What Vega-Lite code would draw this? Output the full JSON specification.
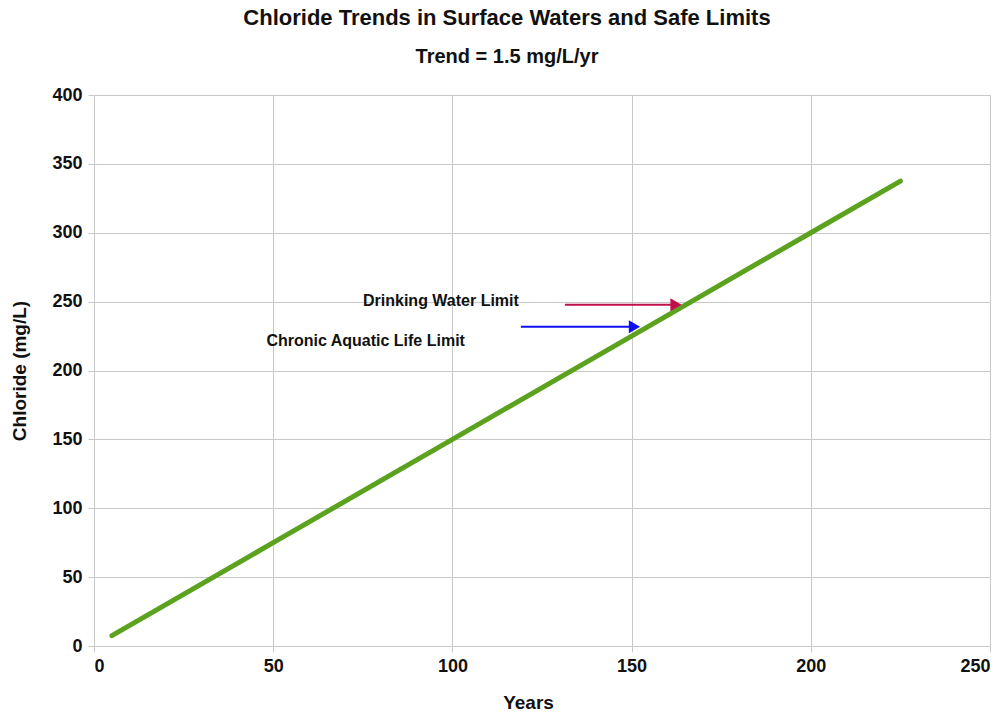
{
  "$schema": "https://vega.github.io/schema/vega-lite/v6.json",
  "width": 896,
  "height": 551,
  "autosize": {"type": "none"},
  "padding": {"left": 94, "top": 95, "right": 15, "bottom": 69},
  "background": "white",
  "title": {
    "text": "Chloride Trends in Surface Waters and Safe Limits",
    "subtitle": "Trend = 1.5 mg/L/yr",
    "anchor": "middle",
    "dx": -35,
    "offset": 18,
    "font": "Liberation Sans",
    "fontSize": 22,
    "fontWeight": "bold",
    "color": "#111111",
    "subtitleFont": "Liberation Sans",
    "subtitleFontSize": 20,
    "subtitleFontWeight": "bold",
    "subtitleColor": "#111111",
    "subtitlePadding": 17
  },
  "config": {
    "view": {"stroke": "#c8c8c8", "strokeWidth": 1},
    "axis": {
      "labelFont": "Liberation Sans",
      "labelFontSize": 18,
      "labelFontWeight": "bold",
      "labelColor": "#111111",
      "titleFont": "Liberation Sans",
      "titleFontSize": 19,
      "titleFontWeight": "bold",
      "titleColor": "#111111",
      "gridColor": "#c8c8c8",
      "gridWidth": 1,
      "domain": false,
      "tickColor": "#c8c8c8",
      "tickSize": 6
    }
  },
  "datasets": {
    "trend": [
      {"years": 5, "chloride": 7.5},
      {"years": 50, "chloride": 75},
      {"years": 100, "chloride": 150},
      {"years": 150, "chloride": 225},
      {"years": 200, "chloride": 300},
      {"years": 225, "chloride": 337.5}
    ],
    "arrows": [
      {"limit": "Drinking Water Limit", "x1": 131.4, "x2": 162, "head": 162.4, "y": 247.7},
      {"limit": "Chronic Aquatic Life Limit", "x1": 119.1, "x2": 150, "head": 150.8, "y": 231.7}
    ],
    "labels": [
      {"label": "Drinking Water Limit", "years": 96.8, "chloride": 250.4},
      {"label": "Chronic Aquatic Life Limit", "years": 75.8, "chloride": 221.5}
    ]
  },
  "layer": [
    {
      "data": {"name": "trend"},
      "mark": {"type": "line", "color": "#5ba21f", "strokeWidth": 5, "strokeCap": "round"},
      "encoding": {
        "x": {
          "field": "years", "type": "quantitative",
          "scale": {"domain": [0, 250], "nice": false},
          "axis": {"title": "Years", "values": [0, 50, 100, 150, 200, 250], "labelPadding": 5, "titlePadding": 18, "titleX": 434}
        },
        "y": {
          "field": "chloride", "type": "quantitative",
          "scale": {"domain": [0, 400], "nice": false},
          "axis": {"title": "Chloride (mg/L)", "values": [0, 50, 100, 150, 200, 250, 300, 350, 400], "labelPadding": 6, "titlePadding": 22}
        }
      }
    },
    {
      "data": {"name": "arrows"},
      "mark": {"type": "rule", "strokeWidth": 2},
      "encoding": {
        "x": {"field": "x1", "type": "quantitative"},
        "x2": {"field": "x2"},
        "y": {"field": "y", "type": "quantitative"},
        "color": {"field": "limit", "type": "nominal", "scale": {"domain": ["Drinking Water Limit", "Chronic Aquatic Life Limit"], "range": ["#c0104a", "#1010f0"]}, "legend": null}
      }
    },
    {
      "data": {"name": "arrows"},
      "mark": {"type": "point", "shape": "triangle-right", "filled": true, "size": 170, "opacity": 1},
      "encoding": {
        "x": {"field": "head", "type": "quantitative"},
        "y": {"field": "y", "type": "quantitative"},
        "color": {"field": "limit", "type": "nominal", "legend": null}
      }
    },
    {
      "data": {"name": "labels"},
      "mark": {"type": "text", "font": "Liberation Sans", "fontSize": 16, "fontWeight": "bold", "color": "#111111", "align": "center", "baseline": "middle"},
      "encoding": {
        "x": {"field": "years", "type": "quantitative"},
        "y": {"field": "chloride", "type": "quantitative"},
        "text": {"field": "label"}
      }
    }
  ]
}
